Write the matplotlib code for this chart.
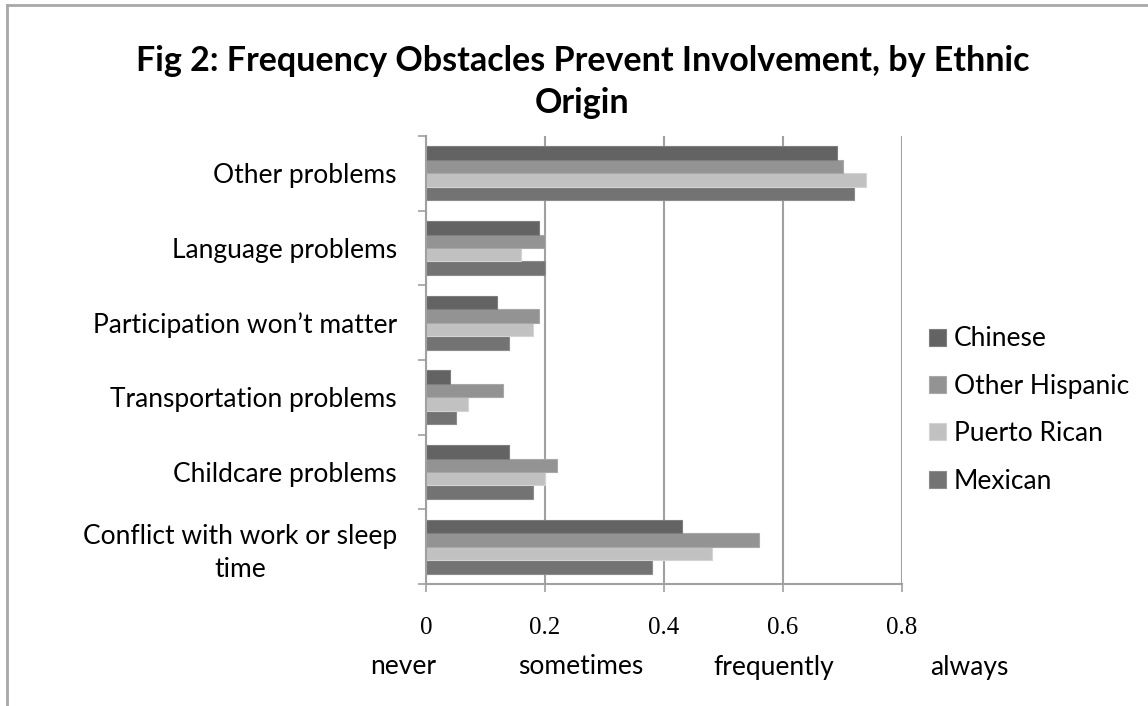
import matplotlib
matplotlib.use("Agg")
import matplotlib.pyplot as plt
from matplotlib.lines import Line2D
import numpy as np

# Obstacle categories, listed bottom to top on the chart
categories = [
    "Conflict with work or sleep\ntime",
    "Childcare problems",
    "Transportation problems",
    "Participation won\u2019t matter",
    "Language problems",
    "Other problems",
]

# Mean frequency per group (same order as categories)
mexican = [0.38, 0.18, 0.05, 0.14, 0.20, 0.72]
puerto_rican = [0.48, 0.20, 0.07, 0.18, 0.16, 0.74]
other_hispanic = [0.56, 0.22, 0.13, 0.19, 0.20, 0.70]
chinese = [0.43, 0.14, 0.04, 0.12, 0.19, 0.69]

series_names = ["Mexican", "Puerto Rican", "Other Hispanic", "Chinese"]
series_values = [mexican, puerto_rican, other_hispanic, chinese]
series_colors = ["#737373", "#c1c1c1", "#939393", "#636363"]
edge_colors = ["#8c8c8c", "#d4d4d4", "#a8a8a8", "#7e7e7e"]

x_ticks = [0, 0.2, 0.4, 0.6, 0.8]
x_tick_labels = ["0", "0.2", "0.4", "0.6", "0.8"]
scale_words = ["never", "sometimes", "frequently", "always"]

title = "Fig 2: Frequency Obstacles Prevent Involvement, by Ethnic\nOrigin"

W, H = 1148, 706
fig = plt.figure(figsize=(W / 100, H / 100), dpi=100)
fig.patch.set_facecolor("white")

sans = ["Lato", "DejaVu Sans"]
label_size = 19

ax = fig.add_axes([426 / W, 1 - 584 / H, (902 - 426) / W, (584 - 136) / H])

y = np.arange(len(categories))
bar_h = 0.18
for j, (name, vals, col, ec) in enumerate(zip(series_names, series_values,
                                               series_colors, edge_colors)):
    ax.barh(y + (j - 1.5) * bar_h, vals, height=bar_h, color=col,
            edgecolor=ec, linewidth=0.8, label=name, zorder=2)

ax.set_xlim(0, 0.8)
ax.set_ylim(-0.5, len(categories) - 0.5)

ax.set_xticks(x_ticks)
ax.set_xticklabels(x_tick_labels, fontfamily="Liberation Serif", fontsize=18)
ax.tick_params(axis="x", direction="out", length=6, width=1.2,
               color="#a0a0a0", pad=18)

# category labels between boundary ticks
ax.set_yticks(np.arange(len(categories) + 1) - 0.5)
ax.set_yticklabels([])
ax.set_yticks(y, minor=True)
ax.set_yticklabels(categories, minor=True, fontfamily=sans, fontsize=label_size,
                   multialignment="center", linespacing=1.4)
ax.tick_params(axis="y", which="major", direction="out", length=6, width=1.2,
               color="#a0a0a0")
ax.tick_params(axis="y", which="minor", length=0, pad=21)

ax.xaxis.grid(True, color="#a0a0a0", linewidth=1.5, zorder=0)
ax.set_axisbelow(True)
for side in ("top", "right"):
    ax.spines[side].set_visible(False)
for side in ("left", "bottom"):
    ax.spines[side].set_color("#a0a0a0")
    ax.spines[side].set_linewidth(1.5)

# legend in Chinese-first order
handles, labels = ax.get_legend_handles_labels()
leg = ax.legend(handles[::-1], labels[::-1], loc="center left",
                bbox_to_anchor=(911 / W, 1 - 410 / H),
                bbox_transform=fig.transFigure, frameon=False,
                prop={"family": sans, "size": label_size}, handlelength=0.62,
                handleheight=0.62, handletextpad=0.3, labelspacing=0.85,
                borderpad=0.2)

fig.text(0.5 * (135 + 1030) / W, 1 - 82 / H, title, ha="center", va="center",
         fontfamily=sans, fontsize=24.5, fontweight="bold", linespacing=1.36)

for word, cx in zip(scale_words, [403, 581, 774, 969]):
    fig.text(cx / W, 1 - 667 / H, word, ha="center", va="center",
             fontfamily=sans, fontsize=label_size)

# chart-area border
fig.add_artist(Line2D([7 / W, 7 / W], [0, 1 - 5 / H], transform=fig.transFigure,
                      color="#a8a8a8", linewidth=2))
fig.add_artist(Line2D([7 / W, 1], [1 - 5 / H, 1 - 5 / H], transform=fig.transFigure,
                      color="#a8a8a8", linewidth=2))

fig.savefig("out.png", dpi=100, facecolor="white")
